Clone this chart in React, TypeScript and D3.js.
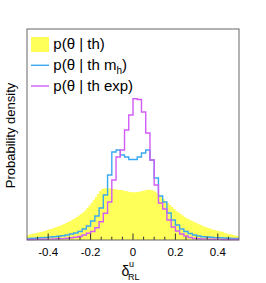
import React from "react";
import * as d3 from "d3";

// bin edges: yellow 100 bins of 0.01, lines 50 bins of 0.02, over [-0.5, 0.5]
const xDomain: [number, number] = [-0.5, 0.5];
const yDomain: [number, number] = [0, 2.11];

const thValues = [
  0.05, 0.055, 0.06, 0.065, 0.07, 0.075, 0.08, 0.085, 0.09, 0.1,
  0.105, 0.11, 0.12, 0.125, 0.135, 0.14, 0.15, 0.16, 0.17, 0.18,
  0.19, 0.205, 0.215, 0.23, 0.245, 0.26, 0.275, 0.295, 0.32, 0.345,
  0.37, 0.4, 0.43, 0.46, 0.49, 0.51, 0.515, 0.52, 0.515, 0.515,
  0.51, 0.51, 0.505, 0.5, 0.5, 0.495, 0.49, 0.485, 0.48, 0.48,
  0.475, 0.48, 0.48, 0.485, 0.49, 0.495, 0.5, 0.505, 0.5, 0.495,
  0.485, 0.47, 0.45, 0.43, 0.41, 0.39, 0.37, 0.35, 0.33, 0.31,
  0.29, 0.275, 0.26, 0.245, 0.23, 0.215, 0.205, 0.195, 0.185, 0.175,
  0.165, 0.155, 0.145, 0.135, 0.13, 0.12, 0.115, 0.105, 0.1, 0.095,
  0.09, 0.085, 0.08, 0.07, 0.065, 0.06, 0.055, 0.05, 0.045, 0.04,
];

const thMhValues = [
  0.015, 0.017, 0.02, 0.022, 0.025, 0.03, 0.033, 0.037, 0.042, 0.05,
  0.06, 0.07, 0.085, 0.11, 0.14, 0.19, 0.24, 0.32, 0.45, 0.65,
  0.88, 0.9, 0.85, 0.83, 0.805, 0.805, 0.83, 0.87, 0.9, 0.8,
  0.62, 0.44, 0.38, 0.27, 0.2, 0.15, 0.11, 0.085, 0.065, 0.05,
  0.04, 0.033, 0.03, 0.027, 0.024, 0.022, 0.02, 0.018, 0.016, 0.015,
];

const thExpValues = [
  0.005, 0.005, 0.006, 0.007, 0.008, 0.009, 0.01, 0.012, 0.014, 0.017,
  0.022, 0.028, 0.035, 0.05, 0.067, 0.085, 0.123, 0.183, 0.267, 0.38,
  0.6, 0.83, 0.9, 1.1, 1.25, 1.413, 1.405, 1.28, 1.07, 0.8,
  0.55, 0.37, 0.31, 0.2, 0.13, 0.09, 0.06, 0.04, 0.025, 0.015,
  0.012, 0.01, 0.009, 0.008, 0.007, 0.006, 0.0055, 0.005, 0.005, 0.005,
];

const majorTicks = [-0.4, -0.2, 0, 0.2, 0.4];
const tickLabels = ["-0.4", "-0.2", "0", "0.2", "0.4"];
const minorTicks = [-0.45, -0.35, -0.3, -0.25, -0.15, -0.1, -0.05, 0.05, 0.1, 0.15, 0.25, 0.3, 0.35, 0.45];

const legendLabels = ["p(θ | th)", "p(θ | th m", "p(θ | th exp)"];

const YELLOW = "#ffff59";
const BLUE = "#3aa8f0";
const MAGENTA = "#d25cf5";

const L = 27, R = 239, T = 29, B = 240;

function stepPoints(values: number[]): [number, number][] {
  const n = values.length;
  const w = (xDomain[1] - xDomain[0]) / n;
  const pts: [number, number][] = values.map((v, i) => [xDomain[0] + i * w, v]);
  pts.push([xDomain[1], values[n - 1]]);
  return pts;
}

export default function App() {
  const x = d3.scaleLinear().domain(xDomain).range([L, R]);
  const y = d3.scaleLinear().domain(yDomain).range([B, T]);

  const area = d3
    .area<[number, number]>()
    .x((d) => x(d[0]))
    .y0(y(0))
    .y1((d) => y(d[1]))
    .curve(d3.curveStepAfter);
  const line = d3
    .line<[number, number]>()
    .x((d) => x(d[0]))
    .y((d) => y(d[1]))
    .curve(d3.curveStepAfter);

  const font = "Liberation Sans, Arial, Helvetica, sans-serif";

  return (
    <svg width={266} height={283} style={{ position: "absolute", left: 0, top: 0 }} fontFamily={font}>
      <rect x={0} y={0} width={266} height={283} fill="#fff" />
      <path d={area(stepPoints(thValues)) || ""} fill={YELLOW} stroke="none" />
      <path d={line(stepPoints(thMhValues)) || ""} fill="none" stroke={BLUE} strokeWidth={1.4} />
      <path d={line(stepPoints(thExpValues)) || ""} fill="none" stroke={MAGENTA} strokeWidth={1.4} />

      {majorTicks.map((t) => (
        <line key={"M" + t} x1={x(t)} x2={x(t)} y1={B} y2={B - 6.5} stroke="#333" strokeWidth={1} />
      ))}
      {minorTicks.map((t) => (
        <line key={"m" + t} x1={x(t)} x2={x(t)} y1={B} y2={B - 3.3} stroke="#333" strokeWidth={1} />
      ))}
      <rect x={L} y={T} width={R - L} height={B - T} fill="none" stroke="#666" strokeWidth={1} />

      {majorTicks.map((t, i) => (
        <text key={"l" + t} x={x(t)} y={256} fontSize={11.5} textAnchor="middle" fill="#000">
          {tickLabels[i]}
        </text>
      ))}

      <text x={121.5} y={276} fontSize={14} fill="#000">δ</text>
      <text x={129} y={267} fontSize={9} fill="#000">u</text>
      <text x={128} y={280} fontSize={9} fill="#000">RL</text>

      <text transform={`translate(14.8, ${(T + B) / 2 + 1}) rotate(-90)`} fontSize={13} textAnchor="middle" fill="#000">
        Probability density
      </text>

      <rect x={31} y={37} width={18} height={15} fill={YELLOW} />
      <text x={53.3} y={49} fontSize={15} fill="#000">{legendLabels[0]}</text>
      <line x1={31} x2={49} y1={65.3} y2={65.3} stroke={BLUE} strokeWidth={1.4} />
      <text x={53.3} y={69.5} fontSize={15} fill="#000">
        {legendLabels[1]}
        <tspan fontSize={10} dy={4}>h</tspan>
        <tspan dy={-4}>)</tspan>
      </text>
      <line x1={31} x2={49} y1={86} y2={86} stroke={MAGENTA} strokeWidth={1.4} />
      <text x={53.3} y={90.5} fontSize={15} fill="#000">{legendLabels[2]}</text>
    </svg>
  );
}
